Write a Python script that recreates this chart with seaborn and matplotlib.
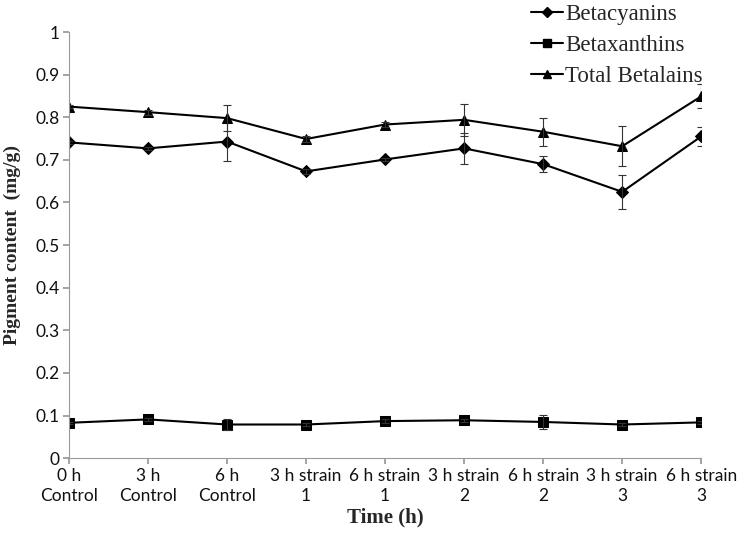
import pandas as pd
import numpy as np
import matplotlib.pyplot as plt
import seaborn as sns
sns.set_theme(style="white")

categories = ["0 h\nControl", "3 h\nControl", "6 h\nControl", "3 h strain\n1", "6 h strain\n1",
              "3 h strain\n2", "6 h strain\n2", "3 h strain\n3", "6 h strain\n3"]
betacyanins = [0.741, 0.727, 0.743, 0.673, 0.701, 0.727, 0.690, 0.625, 0.755]
betacyanins_err = [0.003, 0.003, 0.045, 0.006, 0.003, 0.037, 0.018, 0.040, 0.022]
betaxanthins = [0.083, 0.091, 0.079, 0.079, 0.087, 0.089, 0.085, 0.079, 0.084]
betaxanthins_err = [0.003, 0.004, 0.014, 0.003, 0.004, 0.004, 0.016, 0.003, 0.004]
total = [0.825, 0.812, 0.798, 0.749, 0.783, 0.794, 0.766, 0.732, 0.849]
total_err = [0.004, 0.006, 0.031, 0.008, 0.005, 0.037, 0.033, 0.047, 0.028]

series = {"Betacyanins": (betacyanins, betacyanins_err, "D", 6),
          "Betaxanthins": (betaxanthins, betaxanthins_err, "s", 7),
          "Total Betalains": (total, total_err, "^", 7)}

fig = plt.figure(figsize=(7.42, 5.34), dpi=100)
ax = fig.add_axes([0.093, 0.142, 0.852, 0.798])

x = np.arange(len(categories))
handles = []
for name, (vals, errs, mk, ms) in series.items():
    df = pd.DataFrame({"x": x, "y": vals})
    sns.lineplot(data=df, x="x", y="y", ax=ax, color="black", lw=1.5,
                 marker=mk, markersize=ms, markeredgecolor="black", label=name, legend=False)
    ax.errorbar(x, vals, yerr=errs, fmt="none", ecolor="#333333", elinewidth=0.8, capsize=3, capthick=0.8)
    handles.append(plt.Line2D([], [], color="black", lw=1.5, marker=mk, markersize=ms - 1))

ax.set_xlim(0, len(categories) - 1)
ax.set_ylim(0, 1)
ax.set_yticks(np.arange(0, 1.01, 0.1))
ax.set_yticklabels(["0", "0.1", "0.2", "0.3", "0.4", "0.5", "0.6", "0.7", "0.8", "0.9", "1"])
ax.set_xticks(x)
ax.set_xticklabels(categories, linespacing=1.3)
for s in ["top", "right"]:
    ax.spines[s].set_visible(False)
for s in ["left", "bottom"]:
    ax.spines[s].set_color("#999999")
    ax.spines[s].set_linewidth(0.8)
ax.tick_params(axis="both", which="both", direction="out", length=4, color="#999999",
               labelsize=12.5, left=True, bottom=True, pad=3)
for lab in ax.get_xticklabels() + ax.get_yticklabels():
    lab.set_family(["Lato", "DejaVu Sans"])
    lab.set_color("#111111")
ax.set_xlabel("Time (h)", fontsize=15, fontweight="bold", family="Liberation Serif", labelpad=3)
ax.set_ylabel("Pigment content  (mg/g)", fontsize=14, fontweight="bold", family="Liberation Serif", labelpad=10)

fig.legend(handles, list(series.keys()), loc="upper left", bbox_to_anchor=(0.688, 1.032),
           frameon=False, prop={"family": "Liberation Serif", "size": 16.5},
           handlelength=1.4, handletextpad=0.1, labelspacing=0.45)

fig.savefig("out.png", dpi=100)
